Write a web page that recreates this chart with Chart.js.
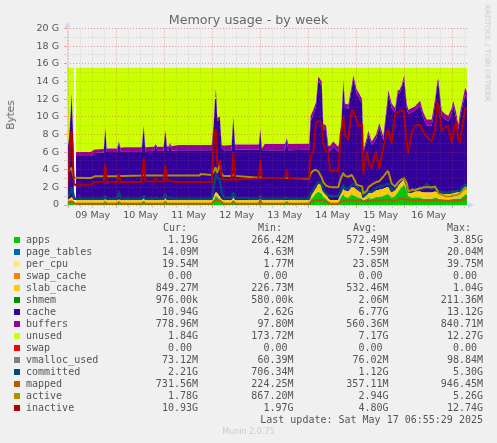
<!DOCTYPE html>
<html><head><meta charset="utf-8">
<style>
html,body{margin:0;padding:0;background:#f0f0f0;width:497px;height:443px;overflow:hidden}
#c{position:absolute;left:0;top:0}
.t{position:absolute;white-space:pre;color:#555;line-height:12px;font:10px/12px "DejaVu Sans Mono",monospace}
.s{position:absolute;width:6px;height:6px}
</style>
<script src="https://cdn.jsdelivr.net/npm/chart.js@4"></script>
</head><body>
<canvas id="c" width="497" height="443"></canvas>
<div id="txt"></div>
<script>
const titleText="Memory usage - by week";
const yTitle="Bytes";
const dayLabels=["09 May","10 May","11 May","12 May","13 May","14 May","15 May","16 May"];
const hours=[-0.85,0.2,1,1.5,2,2.6,2.7,3.5,3.6,8,
11,13,17.5,18.3,19,24.2,25.1,26,27.5,36.5,
37.5,38.3,42.7,43.5,44.3,47.4,48.3,49.2,50,50.6,
51.4,54.7,65.5,66,71.5,72.5,73.2,73.6,74.3,75.6,
76.5,77.5,81.4,82.3,83.2,95,95.8,96.6,98,108.2,
109,109.8,120.2,121,122.3,123.6,124.8,126.5,127.3,128.7,
129.8,130.7,132.3,134.8,136,137.3,138.2,139.8,141.5,142.3,
144,145.3,146.7,147.3,149,149.8,151.5,153.7,155.3,157.3,
159.3,159.8,161.5,163.2,164.5,165.3,166.5,167.7,169,169.8,
171.5,173.2,175.7,177.3,179,181.5,183.2,184.3,184.8,186.5,
188.2,189.8,191.5,192.3,193.7,194.8,195.7,196.8,198.2,199.15];
const apps=[.3,.3,.35,.4,.35,.3,null,null,.15,.15,
.15,.15,.15,.3,.15,.15,.3,.15,.15,.15,
.35,.15,.15,.15,.15,.15,.35,.15,.15,.15,
.15,.15,.15,.15,.15,.5,.9,1,.9,.5,
.3,.15,.15,.45,.15,.15,.3,.15,.15,.15,
.15,.15,.15,.6,.9,1.3,1.5,1.3,.9,.7,
.4,.18,.18,.18,.8,1.2,.9,.8,1.2,1.1,
.9,.8,.7,.5,.7,.8,.7,.9,.9,1,
1.2,1.2,.8,1,1.4,1.7,2,2.3,1.6,1,
.8,.8,.8,.7,.7,.7,.8,.8,.7,.6,
.6,.55,.6,.7,.7,.75,.7,.9,1.19,1.19];
const page_tables=[.01,.01,.01,.01,.01,.01,null,null,.01,.01,
.01,.01,.01,.01,.01,.01,.01,.01,.01,.01,
.01,.01,.01,.01,.01,.01,.01,.01,.01,.01,
.01,.01,.01,.01,.01,.01,.01,.01,.01,.01,
.01,.01,.01,.01,.01,.01,.01,.01,.01,.01,
.01,.01,.01,.01,.01,.01,.01,.01,.01,.01,
.01,.01,.01,.01,.01,.01,.01,.01,.01,.01,
.01,.01,.01,.01,.01,.01,.01,.01,.01,.01,
.01,.01,.01,.01,.01,.01,.01,.01,.01,.01,
.01,.01,.01,.01,.01,.01,.01,.01,.01,.01,
.01,.01,.01,.01,.01,.01,.01,.01,.01,.01];
const per_cpu=[.02,.02,.02,.02,.02,.02,null,null,.02,.02,
.02,.02,.02,.02,.02,.02,.02,.02,.02,.02,
.02,.02,.02,.02,.02,.02,.02,.02,.02,.02,
.02,.02,.02,.02,.02,.02,.02,.02,.02,.02,
.02,.02,.02,.02,.02,.02,.02,.02,.02,.02,
.02,.02,.02,.02,.02,.02,.02,.02,.02,.02,
.02,.02,.02,.02,.02,.02,.02,.02,.02,.02,
.02,.02,.02,.02,.02,.02,.02,.02,.02,.02,
.02,.02,.02,.02,.02,.02,.02,.02,.02,.02,
.02,.02,.02,.02,.02,.02,.02,.02,.02,.02,
.02,.02,.02,.02,.02,.02,.02,.02,.02,.02];
const swap_cache=[0,0,0,0,0,0,null,null,0,0,
0,0,0,0,0,0,0,0,0,0,0,0,0,0,0,0,0,0,0,0,
0,0,0,0,0,0,0,0,0,0,0,0,0,0,0,0,0,0,0,0,
0,0,0,0,0,0,0,0,0,0,0,0,0,0,0,0,0,0,0,0,
0,0,0,0,0,0,0,0,0,0,0,0,0,0,0,0,0,0,0,0,
0,0,0,0,0,0,0,0,0,0,0,0,0,0,0,0,0,0,0,0];
const slab_cache=[.3,.35,.4,.45,.4,.3,null,null,.37,.37,
.37,.37,.37,.35,.37,.37,.3,.37,.37,.37,
.4,.37,.37,.37,.37,.37,.4,.37,.37,.37,
.37,.37,.37,.37,.37,.4,.4,.45,.4,.4,
.3,.37,.37,.4,.37,.37,.35,.37,.37,.37,
.37,.37,.37,.4,.5,.8,1,1,.7,.5,
.3,.37,.37,.37,.5,.7,.7,.7,.8,.9,
.8,.7,.6,.4,.5,.6,.6,.7,.8,.8,
.8,.8,.6,.6,.7,.6,.6,.6,.5,.4,
.6,.7,.7,.7,.7,.7,.7,.6,.6,.6,
.6,.65,.65,.6,.7,.7,.7,.8,.85,.85];
const shmem=[0,0,0,0,0,0,null,null,0,0,
0,0,0,0,0,0,0,0,0,0,0,0,0,0,0,0,0,0,0,0,
0,0,0,0,0,0,0,0,0,0,0,0,0,0,0,0,0,0,0,0,
0,0,0,0,0,0,0,0,0,0,0,0,0,0,0,0,0,0,0,0,
0,0,0,0,0,0,0,0,0,0,0,0,0,0,0,0,0,0,0,0,
0,0,0,0,0,0,0,0,0,0,0,0,0,0,0,0,0,0,0,0];
const cache=[5.27,6.82,9.72,11.72,8.22,5.07,null,null,5.0,5.0,
5.0,5.35,5.4,8.02,5.45,5.45,6.47,5.5,5.55,5.55,
8.12,5.55,5.6,6.25,5.6,5.6,7.62,5.6,5.6,6.4,
5.6,5.65,5.65,5.65,5.65,8.07,10.67,11.72,8.17,8.77,
5.87,5.65,5.65,9.02,5.75,5.7,7.82,5.65,5.65,5.65,
6.95,5.65,5.7,8.47,8.77,8.97,11.52,11.17,6.97,7.17,
5.37,5.52,6.02,5.42,6.17,11.77,9.37,9.37,11.07,12.27,
10.87,10.57,10.17,4.97,5.97,6.57,5.47,5.87,7.07,5.47,
9.27,10.57,9.57,8.87,10.47,10.27,10.57,11.37,8.87,8.87,
9.07,9.17,9.77,8.47,7.57,7.57,9.97,12.17,12.57,8.87,
8.47,8.27,9.12,9.97,8.47,7.02,8.47,9.37,10.43,9.95];
const buffers=[.1,.1,.1,.1,.1,.2,null,null,.45,.45,
.45,.4,.4,.1,.4,.4,.1,.4,.45,.45,
.1,.45,.45,.1,.45,.45,.1,.5,.5,.1,
.5,.6,.6,.6,.6,.3,.2,.1,.4,.3,
.3,.55,.6,.1,.55,.6,.1,.2,.7,.7,
.1,.7,.7,.6,.6,.5,.5,.5,.6,.6,
.6,.6,.6,.6,.5,.4,.5,.5,.4,.4,
.5,.5,.5,.3,.4,.4,.4,.5,.5,.5,
.5,.4,.5,.5,.4,.4,.4,.4,.5,.5,
.5,.5,.5,.6,.7,.7,.5,.4,.4,.6,
.6,.6,.6,.5,.6,.6,.6,.6,.8,.78];
const unused=[9.55,7.95,4.95,2.85,6.45,9.65,null,null,9.55,9.55,
9.55,9.25,9.2,6.75,9.15,9.15,8.35,9.1,9.0,9.0,
6.55,9.0,8.95,8.65,8.95,8.95,7.05,8.9,8.9,8.5,
8.9,8.75,8.75,8.75,8.75,6.25,3.35,2.25,5.65,5.55,
8.75,8.8,8.75,5.55,8.7,8.7,6.95,9.15,8.65,8.65,
7.95,8.65,8.6,5.45,4.75,3.95,1.0,1.55,6.35,6.55,
8.85,8.85,8.35,8.95,7.55,1.45,4.05,4.15,2.05,.85,
2.45,2.95,3.55,9.35,7.95,7.15,8.35,7.55,6.25,7.75,
3.75,2.55,4.05,4.55,2.55,2.55,1.95,.85,4.05,4.75,
4.55,4.35,3.75,5.05,5.85,5.85,3.55,1.55,1.25,4.85,
5.25,5.45,4.55,3.75,5.05,6.45,5.05,3.85,2.25,2.75];
const inactive=[1.9,4.5,8.2,8.3,5.5,2.4,2.3,2.3,2.25,2.25,
2.25,2.6,2.6,4.6,2.7,2.55,3.5,2.6,2.6,2.6,
5.2,2.7,2.65,3,2.65,2.65,4.4,2.75,2.75,2.85,
2.65,2.6,2.6,2.6,2.6,7,8.5,8,4.6,5,
3,2.85,2.85,5.9,2.85,3,5,3,3.05,3.05,
4,3.05,3.1,5.5,6,9.3,9.5,9.4,7,6.1,
6,3.8,3.9,3.8,8,9.9,8,7.4,10.7,10.7,
9.6,8.9,9.1,3.6,6,5,4.2,6,4.2,6.5,
8.4,8.4,7,10.3,10.5,10.6,10.7,10.6,7,5.9,
8.2,9,9.1,8.3,7.7,7.2,8.5,11.6,11.5,8.4,
8.8,8.9,7.1,8,9.5,7.5,7.1,9,10.9,10.93];
const active=[3.6,3.9,4.1,4.2,3.6,3.1,3.1,3.1,3.1,3.05,
3.05,3.25,3.25,3.4,3.25,3.25,3.3,3.3,3.3,3.35,
3.4,3.35,3.35,3.35,3.35,3.35,3.4,3.35,3.35,3.35,
3.35,3.35,3.35,3.5,3.4,3.8,4.2,4,3.7,4.6,
3.5,3.3,3.3,3.4,3.3,3.1,3.2,3.05,3.05,3.05,
3.05,3.05,3,3.6,3.9,4,3.8,3.1,2.6,2.2,
2.1,2.05,2,2,3,3.6,3.3,3.2,3.4,3.1,
2.3,2.2,2.1,1.3,1.6,2,2.3,2.6,2.7,3.2,
3.8,3.8,2.4,2.1,2.5,2.7,2.9,3,2.5,1.5,
1.75,1.7,1.9,2,2,2,2.1,1.6,1.3,1.2,
1,.95,1,1.1,1.1,1.2,1.3,1.6,1.9,1.78];
const committed=[.8,1.1,1.5,1.9,1.5,.9,.72,.72,.72,.72,
.72,.72,.72,1,.72,.72,1.5,.72,.72,.72,
1,.72,.72,.8,.72,.72,1.2,.72,.72,.85,
.72,.72,.72,.72,.72,2,3,3.5,3.2,2.8,
1.5,.8,.8,1.4,.8,.72,1,.72,.72,.72,
.8,.72,.75,1.3,1.7,2.2,2.6,2.4,1.7,1.3,
1.1,1,1,1.05,1.5,2.2,1.8,1.8,2.3,2.4,
2.1,1.7,1.5,.95,1.3,1.5,1.5,1.9,2.1,2.2,
2.4,2.4,1.6,1.9,2.4,2.6,2.9,3.1,2.4,1.5,
1.5,1.7,1.8,1.8,2.4,1.8,2,1.8,1.6,1.5,
1.4,1.4,1.5,1.5,1.6,1.6,1.6,2,2.3,2.21];
const mapped=[.3,.35,.4,.4,.35,.3,.15,.15,.15,.15,
.15,.15,.15,.3,.15,.15,.3,.15,.15,.15,
.3,.15,.15,.15,.15,.15,.3,.15,.15,.15,
.15,.15,.15,.15,.15,.4,.5,.6,.5,.5,
.3,.15,.15,.4,.15,.15,.5,.15,.15,.15,
.3,.15,.15,.35,.45,.55,.6,.55,.5,.4,
.3,.15,.15,.15,.4,.55,.5,.5,.55,.55,
.5,.5,.45,.4,.45,.45,.45,.5,.5,.55,
.6,.6,.5,.5,.6,.65,.7,.7,.6,.6,
.55,.55,.55,.5,.5,.5,.55,.5,.5,.5,
.45,.45,.5,.5,.45,.5,.5,.55,.73,.73];
const legendNames=["apps","page_tables","per_cpu","swap_cache","slab_cache","shmem","cache","buffers","unused","swap","vmalloc_used","committed","mapped","active","inactive"];
const legendColors=["#00CC00","#0066B3","#FFE680","#FF8000","#FFCC00","#008F00","#330099","#990099","#CCFF00","#FF0000","#808080","#00487D","#B35A00","#B38F00","#B30000"];
const curVals=["1.19G","14.09M","19.54M","0.00 ","849.27M","976.00k","10.94G","778.96M","1.84G","0.00 ","73.12M","2.21G","731.56M","1.78G","10.93G"];
const minVals=["266.42M","4.63M","1.77M","0.00 ","226.73M","580.00k","2.62G","97.80M","173.72M","0.00 ","60.39M","706.34M","224.25M","867.20M","1.97G"];
const avgVals=["572.49M","7.59M","23.85M","0.00 ","532.46M","2.06M","6.77G","560.36M","7.17G","0.00 ","76.02M","1.12G","357.11M","2.94G","4.80G"];
const maxVals=["3.85G","20.04M","39.75M","0.00 ","1.04G","211.36M","13.12G","840.71M","12.27G","0.00 ","98.84M","5.30G","946.45M","5.26G","12.74G"];

const toPts=a=>a.map((v,i)=>({x:hours[i],y:v}));
const area=(i,a,fill)=>({label:legendNames[i],data:toPts(a),fill,backgroundColor:legendColors[i],borderColor:legendColors[i],borderWidth:0,pointRadius:0,stack:"mem",order:10+i,spanGaps:false});
const over=(i,a,w,o)=>({label:legendNames[i],data:toPts(a),fill:false,borderColor:legendColors[i],borderWidth:w,pointRadius:0,stack:"l"+i,order:o,borderJoinStyle:"round"});

const RED="rgba(200,60,60,0.45)",GRAY="rgba(120,120,120,0.28)";
const arrows={id:"arrows",afterDraw(ch){
  const c=ch.ctx,a=ch.chartArea;
  c.save();
  c.fillStyle="#d2d2f5";c.strokeStyle="#d2d2f5";c.lineWidth=1;
  c.beginPath();c.moveTo(a.left+.5,a.bottom);c.lineTo(a.left+.5,a.top-3);c.stroke();
  c.beginPath();c.moveTo(a.left+.5,a.top-7);c.lineTo(a.left-2.5,a.top-1);c.lineTo(a.left+3.5,a.top-1);c.fill();
  c.beginPath();c.moveTo(a.right+7,a.bottom);c.lineTo(a.right+1,a.bottom-3);c.lineTo(a.right+1,a.bottom+3);c.fill();
  c.restore();
}};

new Chart(document.getElementById("c"),{
  type:"line",
  data:{datasets:[
    area(0,apps,"origin"),area(1,page_tables,"-1"),area(2,per_cpu,"-1"),area(3,swap_cache,"-1"),
    area(4,slab_cache,"-1"),area(5,shmem,"-1"),area(6,cache,"-1"),area(7,buffers,"-1"),area(8,unused,"-1"),
    over(11,committed,2.5,3),over(12,mapped,2,2),over(13,active,2,1),over(14,inactive,2,0)
  ]},
  plugins:[arrows],
  options:{
    responsive:false,animation:false,devicePixelRatio:1,
    layout:{padding:{left:0,right:30,top:28.5,bottom:0}},
    plugins:{legend:{display:false},title:{display:false},tooltip:{enabled:false}},
    elements:{line:{tension:0}},
    scales:{
      x:{type:"linear",min:-0.85,max:199.15,
        afterFit(s){s.height=238;},
        afterBuildTicks(s){const t=[];for(let h=0;h<=198;h+=6)t.push({value:h});s.ticks=t;},
        grid:{z:1,color:c=>c.tick&&c.tick.value%24===0?RED:GRAY,tickColor:c=>c.tick&&c.tick.value%24===0?"#e8a0a0":"#cfcfcf",tickLength:3},
        border:{display:false,dash:[1,2]},
        ticks:{autoSkip:false,maxRotation:0,minRotation:0,padding:2,color:"#555",font:{family:"DejaVu Sans",size:9.5},
          callback:v=>v%24===12?dayLabels[(v-12)/24]:""}
      },
      y:{stacked:true,min:0,max:20,
        afterFit(s){s.width=67;},
        grid:{z:1,color:c=>c.tick&&c.tick.value%2===0?RED:GRAY,tickColor:c=>c.tick&&c.tick.value%2===0?"#e8a0a0":"#cfcfcf",tickLength:3},
        border:{display:false,dash:[1,2]},
        ticks:{stepSize:1,autoSkip:false,padding:5,color:"#555",font:{family:"DejaVu Sans",size:9.5},
          callback:v=>v===0?"0":(v%2===0?v+" G":"")}
      }
    }
  }
});

const box=document.getElementById("txt");
function put(txt,css,cls){const d=document.createElement("div");d.className=cls||"t";d.textContent=txt;d.style.cssText=css;box.appendChild(d);return d;}
const sans='font-family:"DejaVu Sans",sans-serif;';
put(titleText,sans+"left:0;width:497px;text-align:center;top:12px;font-size:12.7px;line-height:16px;color:#666;");
put(yTitle,sans+"left:10px;top:115px;font-size:10.5px;transform:translate(-50%,-50%) rotate(-90deg);color:#666;");
put("RRDTOOL / TOBI OETIKER",sans+"left:487px;top:53px;font-size:7.5px;transform:translate(-50%,-50%) rotate(90deg);color:#ccc;");
put("Munin 2.0.75",sans+"left:0;width:497px;text-align:center;top:426px;font-size:8px;color:#ccc;");
put("Cur:","left:163px;top:222px;");put("Min:","left:258px;top:222px;");put("Avg:","left:353px;top:222px;");put("Max:","left:447px;top:222px;");
const rightAt=(txt,x,y)=>put(txt,"right:"+(497-x)+"px;top:"+y+"px;");
legendNames.forEach((n,i)=>{
  const y=234+12*i;
  put("","left:14px;top:"+(y+3)+"px;background:"+legendColors[i]+";","s");
  put(n,"left:26px;top:"+y+"px;");
  rightAt(curVals[i],198,y);rightAt(minVals[i],293.5,y);rightAt(avgVals[i],388.5,y);rightAt(maxVals[i],483,y);
});
rightAt("Last update: Sat May 17 06:55:29 2025",483,414);
</script>
</body></html>
